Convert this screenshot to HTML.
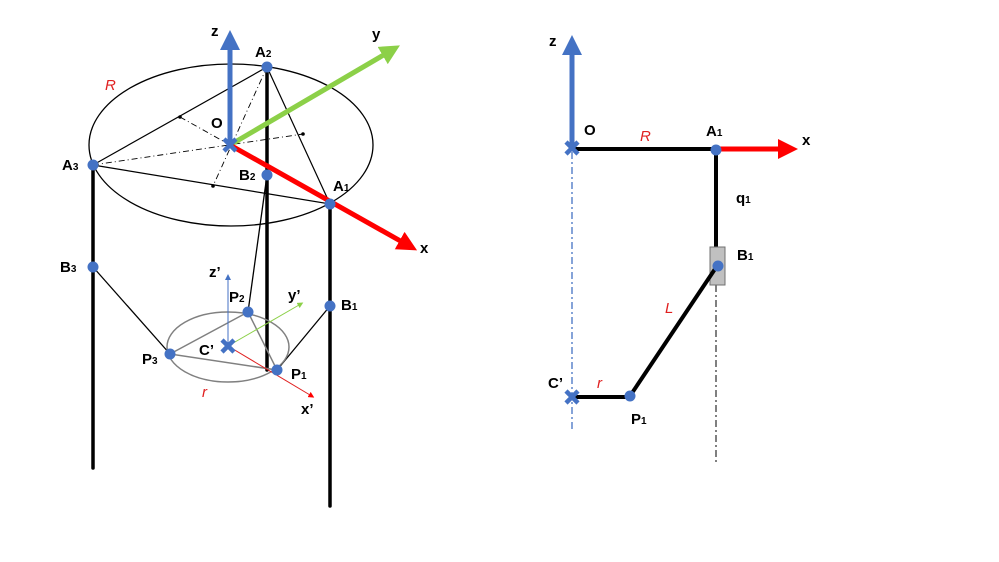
<!DOCTYPE html>
<html><head><meta charset="utf-8"><style>
html,body{margin:0;padding:0;background:#fff}
svg{display:block}
text{font-family:"Liberation Sans",sans-serif;font-weight:bold;font-size:15px;fill:#000}
.r{fill:#e02020;font-style:italic;font-weight:normal}
</style></head><body>
<svg width="999" height="562" viewBox="0 0 999 562" xmlns="http://www.w3.org/2000/svg">
<defs>
<marker id="ab" markerWidth="4" markerHeight="4" refX="1" refY="2" orient="auto"><path d="M0,0L4,2L0,4z" fill="#4472c4"/></marker>
<marker id="ag" markerWidth="4" markerHeight="4" refX="1" refY="2" orient="auto"><path d="M0,0L4,2L0,4z" fill="#8cd048"/></marker>
<marker id="ar" markerWidth="4" markerHeight="4" refX="1" refY="2" orient="auto"><path d="M0,0L4,2L0,4z" fill="#f00"/></marker>
<marker id="sb" markerWidth="6" markerHeight="6" refX="1" refY="3" orient="auto"><path d="M0,0L6,3L0,6z" fill="#4472c4"/></marker>
<marker id="sg" markerWidth="6" markerHeight="6" refX="1" refY="3" orient="auto"><path d="M0,0L6,3L0,6z" fill="#8cd048"/></marker>
<marker id="sr" markerWidth="6" markerHeight="6" refX="1" refY="3" orient="auto"><path d="M0,0L6,3L0,6z" fill="#f00"/></marker>
</defs>
<ellipse cx="231" cy="145" rx="142" ry="81" fill="none" stroke="#000" stroke-width="1.3"/>
<path d="M93,165L267,67L330,204Z" stroke="#000" stroke-width="1.2" fill="none"/>
<g stroke="#000" stroke-width="0.9" stroke-dasharray="6,3,1,3" fill="none">
<path d="M267,67L213,186"/><path d="M93,165L303,134"/><path d="M180,117L230,145"/>
</g>
<circle cx="213" cy="186" r="1.8"/><circle cx="303" cy="134" r="1.8"/><circle cx="180" cy="117" r="1.8"/>
<g stroke="#000" stroke-width="3.5" stroke-linecap="round">
<line x1="93" y1="165" x2="93" y2="468"/><line x1="267" y1="67" x2="267" y2="370"/><line x1="330" y1="204" x2="330" y2="506"/>
</g>
<line x1="267" y1="175" x2="248" y2="312" stroke="#000" stroke-width="1.3"/>
<line x1="93" y1="267" x2="170" y2="354" stroke="#000" stroke-width="1.3"/>
<line x1="330" y1="306" x2="277" y2="370" stroke="#000" stroke-width="1.3"/>
<ellipse cx="228" cy="347" rx="61" ry="35" fill="none" stroke="#808080" stroke-width="1.5"/>
<path d="M170,354L248,312L277,370Z" fill="none" stroke="#808080" stroke-width="1.5"/>
<line x1="230" y1="145" x2="230" y2="45" stroke="#4472c4" stroke-width="5" marker-end="url(#ab)"/>
<line x1="230" y1="145" x2="387" y2="53" stroke="#8cd048" stroke-width="5" marker-end="url(#ag)"/>
<line x1="230" y1="145" x2="404" y2="243" stroke="#f00" stroke-width="5" marker-end="url(#ar)"/>
<line x1="228" y1="346" x2="228" y2="279" stroke="#4472c4" stroke-width="1" marker-end="url(#sb)"/>
<line x1="228" y1="346" x2="299" y2="305" stroke="#8cd048" stroke-width="1" marker-end="url(#sg)"/>
<line x1="228" y1="346" x2="310" y2="395" stroke="#e02020" stroke-width="1" marker-end="url(#sr)"/>
<g fill="#4472c4">
<circle cx="267" cy="67" r="5.5"/><circle cx="93" cy="165" r="5.5"/><circle cx="330" cy="204" r="5.5"/><circle cx="267" cy="175" r="5.5"/>
<circle cx="93" cy="267" r="5.5"/><circle cx="330" cy="306" r="5.5"/><circle cx="248" cy="312" r="5.5"/><circle cx="170" cy="354" r="5.5"/><circle cx="277" cy="370" r="5.5"/>
</g>
<g stroke="#4472c4" stroke-width="4.5"><path d="M224,139l12,12M236,139l-12,12"/><path d="M222,340l12,12M234,340l-12,12"/></g>
<text x="211" y="36">z</text><text x="255" y="57">A<tspan font-size="10">2</tspan></text><text x="372" y="39">y</text>
<text class="r" x="105" y="90">R</text><text x="211" y="128">O</text><text x="62" y="170">A<tspan font-size="10">3</tspan></text>
<text x="239" y="180">B<tspan font-size="10">2</tspan></text><text x="333" y="191">A<tspan font-size="10">1</tspan></text><text x="420" y="253">x</text>
<text x="60" y="272">B<tspan font-size="10">3</tspan></text><text x="209" y="277">z’</text><text x="229" y="302">P<tspan font-size="10">2</tspan></text>
<text x="288" y="300">y’</text><text x="341" y="310">B<tspan font-size="10">1</tspan></text><text x="199" y="355">C’</text>
<text x="142" y="364">P<tspan font-size="10">3</tspan></text><text x="291" y="379">P<tspan font-size="10">1</tspan></text><text class="r" x="202" y="397">r</text><text x="301" y="414">x’</text>
<line x1="572" y1="152" x2="572" y2="430" stroke="#4472c4" stroke-width="1.3" stroke-dasharray="7,3,2,3"/>
<line x1="716" y1="285" x2="716" y2="462" stroke="#000" stroke-width="1" stroke-dasharray="7,3,2,3"/>
<line x1="572" y1="149" x2="715" y2="149" stroke="#000" stroke-width="4"/>
<line x1="716" y1="149" x2="716" y2="250" stroke="#000" stroke-width="4"/>
<rect x="710" y="247" width="15" height="38" fill="#c0c0c0" stroke="#707070" stroke-width="1"/>
<line x1="717" y1="266" x2="630" y2="396" stroke="#000" stroke-width="4"/>
<line x1="572" y1="397" x2="630" y2="397" stroke="#000" stroke-width="4"/>
<line x1="572" y1="149" x2="572" y2="50" stroke="#4472c4" stroke-width="5" marker-end="url(#ab)"/>
<line x1="716" y1="149" x2="783" y2="149" stroke="#f00" stroke-width="5" marker-end="url(#ar)"/>
<g fill="#4472c4"><circle cx="716" cy="150" r="5.5"/><circle cx="718" cy="266" r="5.5"/><circle cx="630" cy="396" r="5.5"/></g>
<g stroke="#4472c4" stroke-width="4.5"><path d="M566,142l12,12M578,142l-12,12"/><path d="M566,391l12,12M578,391l-12,12"/></g>
<text x="549" y="46">z</text><text x="584" y="135">O</text><text class="r" x="640" y="141">R</text><text x="706" y="136">A<tspan font-size="10">1</tspan></text>
<text x="802" y="145">x</text><text x="736" y="203">q<tspan font-size="10">1</tspan></text><text x="737" y="260">B<tspan font-size="10">1</tspan></text>
<text class="r" x="665" y="313">L</text><text x="548" y="388">C’</text><text class="r" x="597" y="388">r</text><text x="631" y="424">P<tspan font-size="10">1</tspan></text>
</svg>
</body></html>
